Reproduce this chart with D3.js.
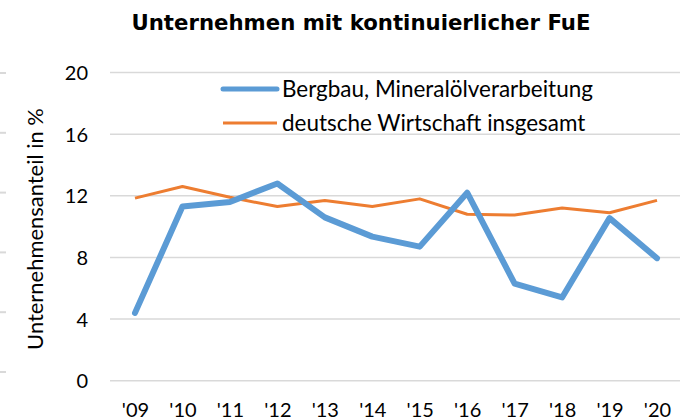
<!DOCTYPE html>
<html><head><meta charset="utf-8">
<script src="https://cdn.jsdelivr.net/npm/d3@7"></script>
<style>
html,body{margin:0;padding:0;background:#fff;}
svg{display:block;}
</style></head>
<body>
<svg id="c" width="693" height="420"></svg>
<script>
const years = ["'09","'10","'11","'12","'13","'14","'15","'16","'17","'18","'19","'20"];
const bergbau = [4.4, 11.3, 11.6, 12.8, 10.6, 9.35, 8.7, 12.2, 6.3, 5.4, 10.55, 7.95];
const gesamt = [11.85, 12.6, 11.9, 11.3, 11.7, 11.3, 11.8, 10.8, 10.75, 11.2, 10.9, 11.7];
const yTicks = [0, 4, 8, 12, 16, 20];
const seriesNames = ["Bergbau, Mineralölverarbeitung", "deutsche Wirtschaft insgesamt"];
const colors = ["#5b9bd5", "#ed7d31"];
const title = "Unternehmen mit kontinuierlicher FuE";
const yTitle = "Unternehmensanteil in %";

const svg = d3.select("#c");
const font = "Lato, 'Open Sans', sans-serif";

function fit(sel, target) {
  const w = sel.node().getComputedTextLength();
  const fs = +sel.attr("font-size");
  sel.attr("font-size", (fs * target / w).toFixed(2));
}

const x = d3.scalePoint().domain(years).range([135, 657]);
const y = d3.scaleLinear().domain([0, 20]).range([380.7, 72.5]);

// left edge artifacts
svg.selectAll("line.edge").data(d3.range(6)).enter().append("line")
  .attr("x1", 0).attr("x2", 6)
  .attr("y1", (d,i) => 73 + i*59.8).attr("y2", (d,i) => 73 + i*59.8)
  .attr("stroke", "#d9d9d9").attr("stroke-width", 2);

// gridlines
svg.append("g").selectAll("line").data(yTicks).enter().append("line")
  .attr("x1", 110).attr("x2", 680)
  .attr("y1", d => y(d)).attr("y2", d => y(d))
  .attr("stroke", "#d9d9d9").attr("stroke-width", 1.5);

// y axis labels
const yAxis = d3.axisLeft(y).tickValues(yTicks).tickSize(0).tickPadding(0);
const gy = svg.append("g").attr("transform", "translate(88,0)").call(yAxis);
gy.select(".domain").remove();
gy.selectAll("text").attr("font-family", font).attr("font-size", 20).attr("fill", "#000").attr("dy", "0.35em");

// x axis labels
const xAxis = d3.axisBottom(x).tickSize(0).tickPadding(0);
const gx = svg.append("g").attr("transform", "translate(0,417)").call(xAxis);
gx.select(".domain").remove();
gx.selectAll("text").attr("font-family", font).attr("font-size", 20).attr("fill", "#000").attr("dy", "0");

// lines
const line = d3.line().x((d,i) => x(years[i])).y(d => y(d));
svg.append("path").datum(gesamt).attr("d", line).attr("fill", "none")
  .attr("stroke", colors[1]).attr("stroke-width", 3).attr("stroke-linejoin", "round");
svg.append("path").datum(bergbau).attr("d", line).attr("fill", "none")
  .attr("stroke", colors[0]).attr("stroke-width", 6).attr("stroke-linejoin", "round").attr("stroke-linecap", "round");

// title
const t = svg.append("text").attr("x", 361).attr("y", 30).attr("text-anchor", "middle")
  .attr("font-family", "'DejaVu Sans', Verdana, sans-serif").attr("font-weight", "bold")
  .attr("font-size", 20).text(title);
fit(t, 459);

// y title
const yt = svg.append("text").attr("transform", "translate(43,229) rotate(-90)").attr("text-anchor", "middle")
  .attr("font-family", font).attr("font-size", 20).text(yTitle);
fit(yt, 242);

// legend
const leg = svg.append("g");
let legSize = null;
seriesNames.forEach((n, i) => {
  const ly = 89 + i*34;
  leg.append("line").attr("x1", 223).attr("x2", 277).attr("y1", ly).attr("y2", ly)
    .attr("stroke", colors[i]).attr("stroke-width", i === 0 ? 5 : 3).attr("stroke-linecap", i === 0 ? "round" : "butt");
  const lt = leg.append("text").attr("x", 282).attr("y", ly).attr("dy", "0.35em")
    .attr("font-family", font).attr("font-size", 20).text(n);
  if (i === 0) { fit(lt, 311); legSize = lt.attr("font-size"); }
  else lt.attr("font-size", legSize);
});
</script>
</body></html>
